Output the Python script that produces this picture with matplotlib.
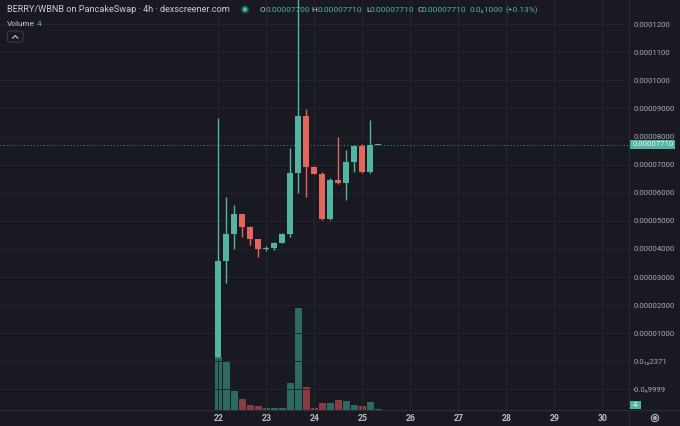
import matplotlib
matplotlib.use("Agg")
import matplotlib.pyplot as plt
import matplotlib.transforms as mtransforms
from matplotlib.lines import Line2D
from matplotlib.patches import Rectangle, Circle, FancyBboxPatch

# ===== data (4h candles, BERRY/WBNB) =====
CANDLE_DAY = [22 + i / 6 for i in range(21)]
OPEN  = [0.15e-5, 3.57e-5, 4.53e-5, 5.23e-5, 4.79e-5, 4.34e-5, 3.99e-5, 4.04e-5, 4.22e-5, 4.53e-5,
         6.71e-5, 8.74e-5, 6.93e-5, 6.67e-5, 5.06e-5, 6.45e-5, 6.33e-5, 7.10e-5, 7.66e-5, 6.73e-5, 7.700e-5]
HIGH  = [8.66e-5, 5.84e-5, 5.56e-5, 5.25e-5, 4.80e-5, 4.36e-5, 4.10e-5, 4.25e-5, 4.55e-5, 7.58e-5,
         13.3e-5, 8.97e-5, 6.95e-5, 6.73e-5, 6.51e-5, 7.99e-5, 7.52e-5, 7.70e-5, 7.73e-5, 8.59e-5, 7.710e-5]
LOW   = [0.12e-5, 2.78e-5, 3.99e-5, 4.41e-5, 4.13e-5, 3.70e-5, 3.92e-5, 3.97e-5, 4.20e-5, 4.44e-5,
         5.98e-5, 5.86e-5, 6.65e-5, 5.04e-5, 5.04e-5, 6.31e-5, 5.74e-5, 6.75e-5, 6.71e-5, 6.71e-5, 7.700e-5]
CLOSE = [3.57e-5, 4.53e-5, 5.23e-5, 4.79e-5, 4.34e-5, 3.99e-5, 4.04e-5, 4.22e-5, 4.53e-5, 6.71e-5,
         8.74e-5, 6.93e-5, 6.67e-5, 5.06e-5, 6.45e-5, 6.33e-5, 7.10e-5, 7.66e-5, 6.73e-5, 7.70e-5, 7.710e-5]
VOLUME = [160, 145, 58, 32, 15, 12, 5, 5, 6, 82, 307, 69, 7, 21, 20, 29, 27, 15, 12, 24, 4]

LAST_PRICE = 7.71e-5
PRICE_TICKS = [12e-5, 11e-5, 10e-5, 9e-5, 8e-5, 7e-5, 6e-5, 5e-5, 4e-5, 3e-5, 2e-5, 1e-5, 0.0, -1e-5]
PRICE_LABELS = ["0.0001200", "0.0001100", "0.0001000", "0.00009000", "0.00008000", "0.00007000",
                "0.00006000", "0.00005000", "0.00004000", "0.00003000", "0.00002000", "0.00001000",
                "0.0\u2081\u20802371", "-0.0\u20899999"]
DAY_TICKS = [22, 23, 24, 25, 26, 27, 28, 29, 30]

# ===== style =====
BG     = "#191922"
GRID   = "#24242f"
SEP    = "#2c2c38"
UP     = "#52b5a2"
DOWN   = "#e3655c"
VUP    = "#2e6a61"
VDOWN  = "#8a3c43"
TXT    = "#c9cbd3"
AXTXT  = "#a9abb5"

plt.rcParams["font.family"] = ["Roboto", "DejaVu Sans"]

W, H, DPI = 680, 426, 100
fig = plt.figure(figsize=(W / DPI, H / DPI), dpi=DPI, facecolor=BG)
renderer = fig.canvas.get_renderer()
# pixel transform, origin top-left
PX = mtransforms.Affine2D().scale(1, -1).translate(0, H).scale(1 / DPI) + fig.dpi_scale_trans


def fit_text(x, y, s, width, color, **kw):
    # put text at pixel (x, y) and scale its size so it spans `width` pixels
    t = fig.text(x, y, s, transform=PX, fontsize=7, color=color, va="center", ha="left", **kw)
    w = t.get_window_extent(renderer).width
    t.set_fontsize(7 * width / w)
    return t


def fit_size(s, width, **kw):
    t = fig.text(0, 0, s, fontsize=7, **kw)
    w = t.get_window_extent(renderer).width
    t.remove()
    return 7 * width / w


ax = fig.add_axes([0, 16 / H, 629 / W, 410 / H])
vax = ax.twinx()
ax.set_zorder(vax.get_zorder() + 1)
ax.patch.set_visible(False)
vax.set_facecolor(BG)

# volume
vcol = [VUP if c >= o else VDOWN for o, c in zip(OPEN, CLOSE)]
vax.bar(CANDLE_DAY, VOLUME, width=0.148, color=vcol, linewidth=0)
vax.set_ylim(0, 1230)
vax.set_yticks([])

# candles
for t, o, h, l, c in zip(CANDLE_DAY, OPEN, HIGH, LOW, CLOSE):
    col = UP if c >= o else DOWN
    ax.vlines(t, l, h, color=col, linewidth=1.0, zorder=3)
    body = max(abs(c - o), 0.035e-5)
    ax.bar(t, body, bottom=min(o, c), width=0.125, color=col, linewidth=0, zorder=4)

ax.axhline(LAST_PRICE, color=UP, linewidth=0.8, linestyle=(0, (1, 2)), alpha=0.7, zorder=2)

ax.set_xlim(17.452, 30.556)
ax.set_ylim(-1.733e-5, 12.858e-5)
ax.set_xticks(DAY_TICKS)
ax.set_xticklabels([str(d) for d in DAY_TICKS])
ax.set_yticks(PRICE_TICKS)
ax.set_yticklabels(PRICE_LABELS)
ax.yaxis.tick_right()
ysize = fit_size("0.00009000", 41)
ax.tick_params(axis="y", length=0, pad=3.0, labelsize=ysize, labelcolor=AXTXT)
xsize = fit_size("22", 10, fontweight="semibold")
ax.tick_params(axis="x", length=0, pad=3.0, labelsize=xsize, labelcolor="#b9bbc5")
for lb in ax.get_xticklabels():
    lb.set_fontweight("semibold")
ax.grid(True, color=GRID, linewidth=0.7)
ax.set_axisbelow(True)
for a in (ax, vax):
    for s in a.spines.values():
        s.set_visible(False)

# separators
fig.add_artist(Line2D([0, W], [410, 410], transform=PX, color=SEP, linewidth=0.8))
fig.add_artist(Line2D([629, 629], [0, H], transform=PX, color=SEP, linewidth=0.8))

# last price tag
fig.add_artist(Rectangle((629, 140), 46, 8.6, transform=PX, color=UP, linewidth=0))
fig.text(633, 144.5, "0.00007710", transform=PX, fontsize=ysize, color="#eef2f0", va="center", ha="left")
# volume tag
fig.add_artist(Rectangle((629, 400.7), 12, 8.6, transform=PX, color=UP, linewidth=0))
fig.text(635, 405.2, "4", transform=PX, fontsize=ysize, color="#eef2f0", va="center", ha="center")

# settings icon
fig.add_artist(Circle((655, 418), 3.6, transform=PX, fill=False, edgecolor=AXTXT, linewidth=0.9))
fig.add_artist(Circle((655, 418), 1.3, transform=PX, color=AXTXT))

# header
fit_text(7, 10, "BERRY/WBNB on PancakeSwap \u00b7 4h \u00b7 dexscreener.com", 224, TXT)
fig.add_artist(Circle((245, 9.5), 4.2, transform=PX, color="#1f4a44", linewidth=0))
fig.add_artist(Circle((245, 9.5), 2.3, transform=PX, color=UP, linewidth=0))
hsize = fit_size("0.00007700", 43.5)
hdr = [(259.3, "O", TXT), (265, "0.00007700", UP),
       (311.7, "H", TXT), (317.3, "0.00007710", UP),
       (366, "L", TXT), (370, "0.00007710", UP),
       (417, "C", TXT), (421.7, "0.00007710", UP),
       (470, "0.0\u20861000", UP), (505, "(+0.13%)", UP)]
for x, s, col in hdr:
    fig.text(x, 10, s, transform=PX, fontsize=hsize, color=col, va="center", ha="left")

fig.text(7, 23.5, "Volume", transform=PX, fontsize=hsize, color=TXT, va="center", ha="left")
fig.text(37, 23.5, "4", transform=PX, fontsize=hsize, color=UP, va="center", ha="left")

# collapse button
fig.add_artist(FancyBboxPatch((7.5, 31), 15.5, 11, boxstyle="round,pad=0,rounding_size=2",
                              transform=PX, facecolor="none", edgecolor="#3a3a48", linewidth=0.8))
fig.add_artist(Line2D([12.5, 15.2, 17.9], [38.2, 35.6, 38.2], transform=PX, color=TXT, linewidth=0.8))

fig.savefig("out.png", dpi=DPI, facecolor=BG)
